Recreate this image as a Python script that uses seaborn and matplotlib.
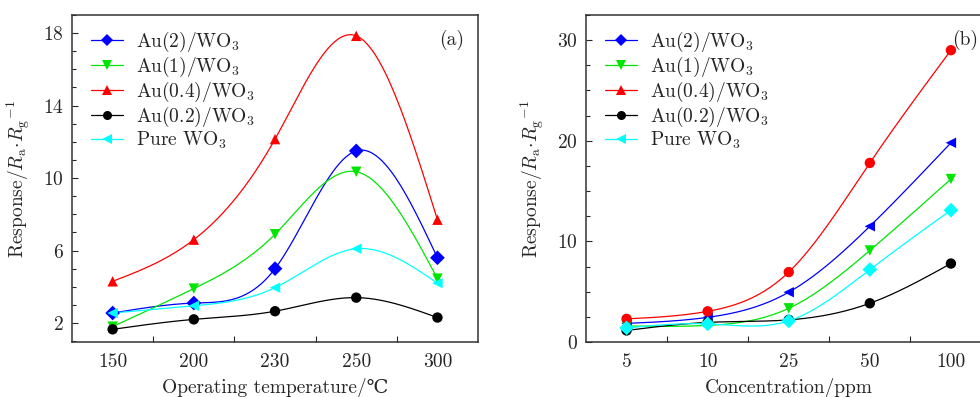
import numpy as np
import matplotlib
matplotlib.use("Agg")
import matplotlib.pyplot as plt
from matplotlib.lines import Line2D
from matplotlib.ticker import MultipleLocator, FixedLocator
import seaborn as sns
import pandas as pd

# data
series = ["Au(2)/WO$_3$", "Au(1)/WO$_3$", "Au(0.4)/WO$_3$", "Au(0.2)/WO$_3$", "Pure WO$_3$"]
colors = ["#0000ff", "#00e600", "#ff0000", "#000000", "#00ffff"]

temp_labels = ["150", "200", "230", "250", "300"]
temp_au2 = [2.55, 3.1, 5.0, 11.5, 5.6]
temp_au1 = [1.8, 3.9, 6.9, 10.35, 4.45]
temp_au04 = [4.3, 6.6, 12.15, 17.85, 7.7]
temp_au02 = [1.65, 2.2, 2.65, 3.4, 2.3]
temp_pure = [2.55, 2.95, 3.95, 6.1, 4.2]

conc_labels = ["5", "10", "25", "50", "100"]
conc_au2 = [1.85, 2.45, 4.95, 11.5, 19.8]
conc_au1 = [1.6, 1.65, 3.35, 9.1, 16.2]
conc_au04 = [2.3, 3.05, 6.95, 17.8, 29.0]
conc_au02 = [1.15, 1.95, 2.2, 3.85, 7.8]
conc_pure = [1.4, 1.8, 2.1, 7.2, 13.1]

markers_a = ["D", "v", "^", "o", "<"]
markers_b = ["<", "v", "o", "o", "D"]


def spline_curve(xs, ys, n=200):
    # natural cubic spline through the points (smooth line like the original)
    xs = np.asarray(xs, float)
    ys = np.asarray(ys, float)
    k = len(xs)
    h = np.diff(xs)
    A = np.zeros((k, k))
    b = np.zeros(k)
    A[0, 0] = A[-1, -1] = 1
    for i in range(1, k - 1):
        A[i, i - 1] = h[i - 1]
        A[i, i] = 2 * (h[i - 1] + h[i])
        A[i, i + 1] = h[i]
        b[i] = 6 * ((ys[i + 1] - ys[i]) / h[i] - (ys[i] - ys[i - 1]) / h[i - 1])
    M = np.linalg.solve(A, b)
    xx = np.linspace(xs[0], xs[-1], n)
    idx = np.clip(np.searchsorted(xs, xx) - 1, 0, k - 2)
    x0 = xs[idx]
    x1 = xs[idx + 1]
    hh = x1 - x0
    t0 = x1 - xx
    t1 = xx - x0
    yy = (M[idx] * t0 ** 3 / (6 * hh) + M[idx + 1] * t1 ** 3 / (6 * hh)
          + (ys[idx] / hh - M[idx] * hh / 6) * t0
          + (ys[idx + 1] / hh - M[idx + 1] * hh / 6) * t1)
    return xx, yy


def build_frames(values):
    pts = []
    curves = []
    for name, vals in zip(series, values):
        pos = np.arange(len(vals))
        for p, v in zip(pos, vals):
            pts.append({"x": p, "y": v, "series": name})
        xx, yy = spline_curve(pos, vals)
        for a, c in zip(xx, yy):
            curves.append({"x": a, "y": c, "series": name})
    return pd.DataFrame(pts), pd.DataFrame(curves)


sns.set_style("ticks")
plt.rcParams["font.family"] = ["cmr10", "DejaVu Serif"]
plt.rcParams["mathtext.fontset"] = "cm"
plt.rcParams["axes.formatter.use_mathtext"] = True
plt.rcParams["font.size"] = 14

fig = plt.figure(figsize=(9.8, 3.97), dpi=100)
ax_a = fig.add_axes([0.0735, 0.1385, 0.4143, 0.8237])
ax_b = fig.add_axes([0.598, 0.1385, 0.4137, 0.8237])

palette = dict(zip(series, colors))
panels = [
    (ax_a, [temp_au2, temp_au1, temp_au04, temp_au02, temp_pure], markers_a, temp_labels,
     "Operating temperature/\u2103", (0.95, 19), [2, 6, 10, 14, 18], 1, "(a)"),
    (ax_b, [conc_au2, conc_au1, conc_au04, conc_au02, conc_pure], markers_b, conc_labels,
     "Concentration/ppm", (0, 32.5), [0, 10, 20, 30], 2.5, "(b)"),
]

for ax, values, mk, xlabels, xlabel, ylim, yticks, ymin, tag in panels:
    pts, curves = build_frames(values)
    sns.lineplot(data=curves, x="x", y="y", hue="series", palette=palette,
                 linewidth=0.9, legend=False, ax=ax, sort=False, estimator=None)
    sns.scatterplot(data=pts, x="x", y="y", hue="series", style="series",
                    markers=dict(zip(series, mk)), palette=palette, s=56,
                    edgecolor="none", legend=False, ax=ax, zorder=3)

    ax.set_xlim(-0.5, 4.5)
    ax.set_ylim(*ylim)
    ax.xaxis.set_major_locator(FixedLocator(range(5)))
    ax.set_xticklabels(xlabels)
    ax.xaxis.set_minor_locator(FixedLocator([0.5, 1.5, 2.5, 3.5]))
    ax.yaxis.set_major_locator(FixedLocator(yticks))
    ax.yaxis.set_minor_locator(MultipleLocator(ymin))
    ax.tick_params(axis="x", which="major", length=0, pad=8)
    ax.tick_params(axis="x", which="minor", direction="in", length=4, width=0.8)
    ax.tick_params(axis="y", which="major", direction="in", length=4, width=0.8, pad=6)
    ax.tick_params(axis="y", which="minor", direction="in", length=3, width=0.8)
    for sp in ax.spines.values():
        sp.set_linewidth(1.1)
        sp.set_color("#333333")

    ax.set_xlabel(xlabel, labelpad=5)
    ax.set_ylabel(r"Response/$R_{\rm a}{\cdot}R_{\rm g}{}^{-1}$", labelpad=8)
    ax.text(0.936, 0.924, tag, transform=ax.transAxes, ha="center", va="center")

    handles = [Line2D([0], [0], color=c, marker=m, markersize=6.5, linewidth=0.9,
                      markeredgewidth=0)
               for c, m in zip(colors, markers_a)]
    ax.legend(handles, series, loc="upper left", bbox_to_anchor=(0.047, 0.955),
              frameon=False, handlelength=1.65, handletextpad=0.67,
              labelspacing=0.05, borderpad=0, borderaxespad=0)

fig.savefig("out.png", dpi=100)
